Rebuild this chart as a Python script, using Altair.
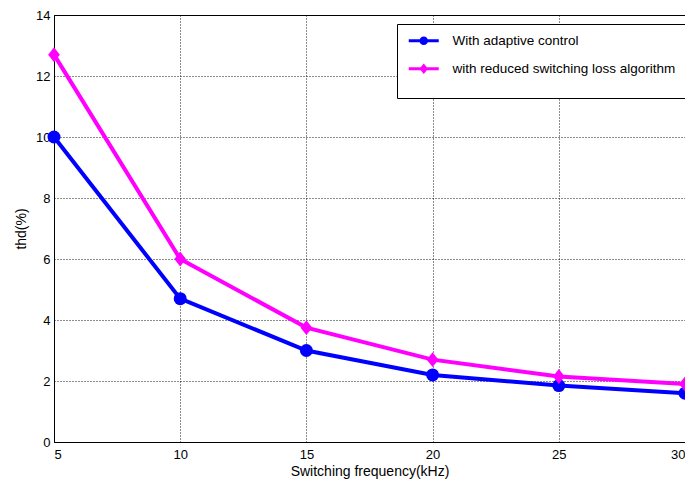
import altair as alt
import pandas as pd

freq = [5, 10, 15, 20, 25, 30]
adaptive = [10.0, 4.7, 3.0, 2.2, 1.85, 1.6]
reduced = [12.7, 6.0, 3.75, 2.7, 2.15, 1.9]
series_names = ["With adaptive control", "with reduced switching loss algorithm"]
series_colors = ["#0000FF", "#FF00FF"]

# plot marker shapes
circle_shape = "circle"
diamond_shape = "M0,-1.15L0.9,0L0,1.15L-0.9,0Z"
# legend symbols: line + marker (unit = 7px)
leg_circle = ("M-1,-0.29H5V0.29H-1Z "
              "M2.86,0A0.86,0.86 0 1,1 1.14,0A0.86,0.86 0 1,1 2.86,0Z")
leg_diamond = ("M-1,-0.29H5V0.29H-1Z "
               "M2,-1.07L2.86,0L2,1.07L1.14,0Z")

rows = []
for i, f in enumerate(freq):
    rows.append({"f": f, "v": adaptive[i], "s": series_names[0], "c": series_colors[0], "m": circle_shape})
    rows.append({"f": f, "v": reduced[i], "s": series_names[1], "c": series_colors[1], "m": diamond_shape})
df = pd.DataFrame(rows)

FONT = "Liberation Sans"

x = alt.X("f:Q", scale=alt.Scale(domain=[5, 30], nice=False),
          axis=alt.Axis(values=freq, title="Switching frequency(kHz)", format="d"))
y = alt.Y("v:Q", scale=alt.Scale(domain=[0, 14], nice=False),
          axis=alt.Axis(values=[0, 2, 4, 6, 8, 10, 12, 14], title="thd(%)", format="d"))

base = alt.Chart(df)

lines = base.mark_line(strokeWidth=4).encode(
    x=x, y=y, color=alt.Color("c:N", scale=None), detail="s:N")

points = base.mark_point(filled=True, opacity=1, size=169).encode(
    x=x, y=y, color=alt.Color("c:N", scale=None), shape=alt.Shape("m:N", scale=None))

legend_layer = base.mark_point(filled=True, opacity=0, size=196).encode(
    x=x, y=y,
    color=alt.Color("s:N", scale=alt.Scale(domain=series_names, range=series_colors),
                    legend=alt.Legend(title=" ", titleOrient="bottom", titleFontSize=10,
                                      titlePadding=3,
                                      orient="none", legendX=343, legendY=9,
                                      padding=10, rowPadding=13, labelOffset=32,
                                      labelLimit=400,
                                      strokeColor="black", fillColor="white",
                                      symbolOpacity=1, symbolStrokeWidth=0,
                                      labelFont=FONT, labelFontSize=13.5, labelColor="black")),
    shape=alt.Shape("s:N", scale=alt.Scale(domain=series_names, range=[leg_circle, leg_diamond])),
)

chart = alt.layer(lines, points, legend_layer).properties(
    width=631, height=427,
    autosize=alt.AutoSizeParams(type="none"),
    padding={"left": 46, "top": 7, "right": 0, "bottom": 39},
).configure_view(stroke="black", strokeWidth=1).configure_axis(
    domainColor="black", domainWidth=1,
    grid=True, gridColor="black", gridDash=[1, 2], gridWidth=1, gridOpacity=0.9,
    ticks=False, labelFont=FONT, labelFontSize=13, labelColor="black",
    titleFont=FONT, titleFontSize=14, titleFontWeight="normal", titleColor="black",
).configure_axisX(labelPadding=6, titlePadding=3).configure_axisY(labelPadding=4, titlePadding=7)

chart.save("out.html", embed_options={"renderer": "svg", "actions": False})
